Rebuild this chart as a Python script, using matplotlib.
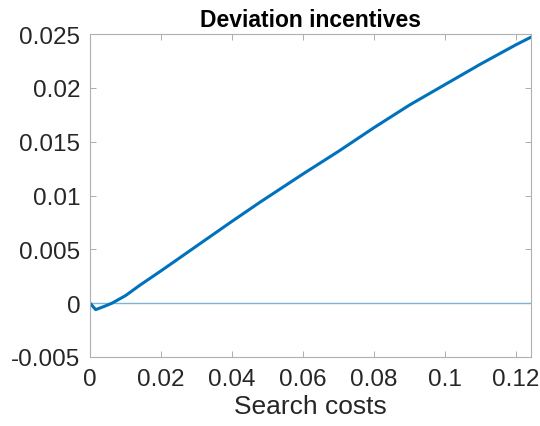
import matplotlib
matplotlib.use('Agg')
import matplotlib.pyplot as plt

# search costs and deviation incentive
search_costs = [0, 0.0016, 0.004, 0.0062, 0.01, 0.0141, 0.02, 0.03, 0.04, 0.048,
                0.06, 0.07, 0.08, 0.09, 0.1, 0.11, 0.12, 0.1242]
deviation = [0, -0.0006, -0.0003, 0.0, 0.0007, 0.00168, 0.0030, 0.0053, 0.0076, 0.0094,
             0.0120, 0.0141, 0.0163, 0.0184, 0.0203, 0.0222, 0.0240, 0.0247]

x_ticks = [0, 0.02, 0.04, 0.06, 0.08, 0.1, 0.12]
x_tick_labels = ['0', '0.02', '0.04', '0.06', '0.08', '0.1', '0.12']
y_ticks = [-0.005, 0, 0.005, 0.01, 0.015, 0.02, 0.025]
y_tick_labels = ['-0.005', '0', '0.005', '0.01', '0.015', '0.02', '0.025']

plt.rcParams['font.family'] = ['Liberation Sans', 'DejaVu Sans']

fig = plt.figure(figsize=(5.4, 4.27), dpi=100)
ax = fig.add_axes([0.1667, 0.1616, 0.8163, 0.7564])

blue = '#0072BD'
ax.axhline(0, color='#7fb3d5', lw=1.0)
ax.plot(search_costs, deviation, color=blue, lw=2.2)

ax.set_xlim(0, 0.1242)
ax.set_ylim(-0.005, 0.025)
ax.set_xticks(x_ticks)
ax.set_xticklabels(x_tick_labels)
ax.set_yticks(y_ticks)
ax.set_yticklabels(y_tick_labels)

ax.tick_params(direction='in', top=True, right=True, length=4, width=0.6,
               color='#a0a0a0', labelsize=17.5, labelcolor='#262626')
ax.tick_params(axis='x', pad=8)
ax.tick_params(axis='y', pad=7)
for s in ax.spines.values():
    s.set_color('#b0b0b0')
    s.set_linewidth(0.8)

ax.set_xlabel('Search costs', fontsize=19, color='#262626', labelpad=3)
ax.set_title('Deviation incentives', fontsize=16.5, fontweight='bold', pad=6)

fig.savefig('out.png', dpi=100)
